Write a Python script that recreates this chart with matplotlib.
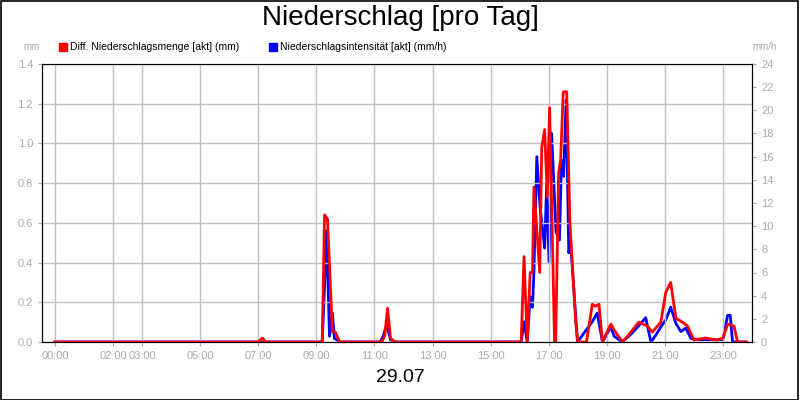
import numpy as np
import matplotlib
matplotlib.use("Agg")
import matplotlib.pyplot as plt
from matplotlib.patches import Rectangle

plt.rcParams["font.family"] = ["Liberation Sans", "DejaVu Sans"]

# hours of day -> values; zeros between events
red_h = [0, 7.0, 7.14, 7.25, 9.2, 9.28, 9.38, 9.55, 9.65, 9.8, 11.25, 11.35, 11.45, 11.55, 11.7,
         16.05, 16.15, 16.26, 16.36, 16.44, 16.49, 16.69, 16.76, 16.86, 16.95, 17.03, 17.13, 17.2, 17.24,
         17.34, 17.41, 17.5, 17.62, 17.73, 17.93, 18.0, 18.3, 18.5, 18.6, 18.73, 18.85, 19.14, 19.3, 19.54,
         19.83, 20.1, 20.4, 20.57, 20.86, 21.03, 21.2, 21.38, 21.6, 21.78, 22.0, 22.4, 22.8, 23.0, 23.16,
         23.38, 23.5, 23.8]
red_v = [0, 0, 0.02, 0, 0, 0.64, 0.62, 0.05, 0.05, 0, 0, 0.03, 0.17, 0.02, 0,
         0, 0.43, 0, 0.35, 0.35, 0.78, 0.35, 0.98, 1.07, 0.73, 1.18, 0.5, 0.0, 0,
         0.85, 0.92, 1.26, 1.26, 0.6, 0.1, 0, 0, 0.19, 0.18, 0.19, 0, 0.09, 0.05, 0,
         0.05, 0.1, 0.08, 0.05, 0.1, 0.25, 0.3, 0.12, 0.1, 0.08, 0.01, 0.02, 0.01, 0.02, 0.09,
         0.08, 0, 0]

blue_h = [0, 9.2, 9.3, 9.35, 9.45, 9.55, 9.62, 9.7, 9.8, 11.2, 11.3, 11.42, 11.55, 11.7,
          16.05, 16.15, 16.26, 16.36, 16.44, 16.49, 16.59, 16.70, 16.86, 16.93, 17.01, 17.10, 17.25,
          17.37, 17.44, 17.51, 17.60, 17.69, 17.76, 17.99,
          18.5, 18.67, 18.85, 19.14, 19.25, 19.54, 19.88, 20.17, 20.34, 20.52, 20.69, 20.86, 21.03,
          21.2, 21.38, 21.55, 21.72, 21.9, 22.2, 22.6, 23.0, 23.16, 23.25, 23.33, 23.8]
blue_v = [0, 0, 6.0, 9.6, 0.5, 2.5, 0.3, 0.2, 0, 0, 0.5, 1.5, 0.2, 0,
          0, 1.75, 0, 3.9, 3.0, 6.0, 16.0, 11.7, 8.1, 13.7, 6.9, 18.0, 9.5,
          8.8, 15.7, 14.3, 20.9, 7.7, 8.3, 0,
          1.75, 2.5, 0, 1.3, 0.5, 0, 0.8, 1.6, 2.1, 0, 0.6, 1.3, 1.9,
          3.0, 1.6, 0.9, 1.2, 0.3, 0.2, 0.2, 0.2, 2.3, 2.3, 0, 0]

tick_h = [0, 2, 3, 5, 7, 9, 11, 13, 15, 17, 19, 21, 23]
tick_lab = [f"{h:02d}:00" for h in tick_h]

fig = plt.figure(figsize=(8, 4), dpi=100)
fig.patches.append(Rectangle((0.001, 0.001), 0.997, 0.997, transform=fig.transFigure,
                             fill=False, edgecolor="black", linewidth=1.2))
ax = fig.add_axes([0.0525, 0.145, 0.8875, 0.695])
ax2 = ax.twinx()

gray = "#aaaaaa"
ax.set_xlim(-0.45, 24.0)
ax.set_ylim(0, 1.4)
ax2.set_ylim(0, 24)
ax.set_xticks(tick_h)
ax.set_xticklabels(tick_lab)
ax.set_yticks(np.arange(0, 1.41, 0.2))
ax.set_yticklabels([f"{v:.1f}" for v in np.arange(0, 1.41, 0.2)])
ax2.set_yticks(range(0, 25, 2))
ax.grid(True, color="#c0c0c0", linewidth=1)
for a in (ax, ax2):
    a.tick_params(colors=gray, labelsize=8, length=3)
    for s in a.spines.values():
        s.set_color("black")

ax2.plot(blue_h, blue_v, color="#0000ff", linewidth=2, zorder=2)
ax.set_zorder(ax2.get_zorder() + 1)
ax.patch.set_visible(False)
ax.plot(red_h, red_v, color="#ff0000", linewidth=2, zorder=3)

fig.text(0.5, 0.955, "Niederschlag [pro Tag]", ha="center", va="center", fontsize=20)
fig.text(0.5, 0.055, "29.07", ha="center", va="center", fontsize=14)
fig.text(0.05, 0.882, "mm", ha="right", va="center", fontsize=7, color=gray)
fig.text(0.94, 0.882, "mm/h", ha="left", va="center", fontsize=7, color=gray)
fig.patches.append(Rectangle((0.074, 0.872), 0.01, 0.02, transform=fig.transFigure, color="#ff0000"))
fig.text(0.088, 0.882, "Diff. Niederschlagsmenge [akt] (mm)", va="center", fontsize=7.5)
fig.patches.append(Rectangle((0.336, 0.872), 0.01, 0.02, transform=fig.transFigure, color="#0000ff"))
fig.text(0.35, 0.882, "Niederschlagsintensität [akt] (mm/h)", va="center", fontsize=7.5)

fig.savefig("out.png", dpi=100)
